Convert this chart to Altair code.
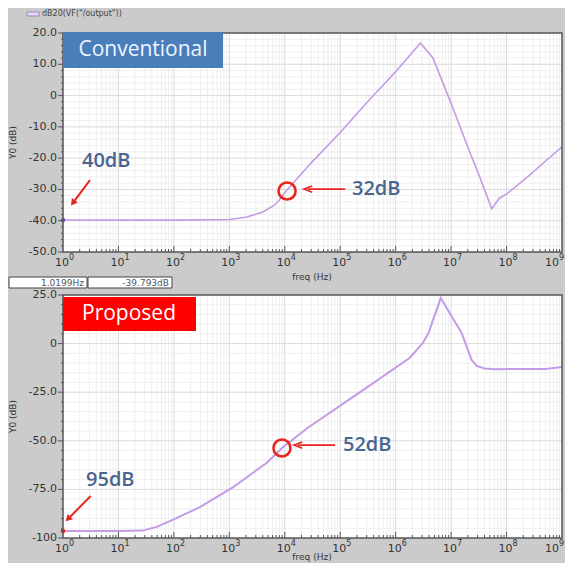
import math
import altair as alt
import pandas as pd

# ---------------- data ----------------
conv_freq = [1, 10, 100, 1000, 2000, 4000, 6300, 8000, 1e4, 3e4, 1e5, 3e5, 1e6,
             2.8e6, 4.7e6, 1e7, 2.1e7, 3.2e7, 5.4e7, 7.4e7, 1e8, 2.6e8, 5e8, 1e9]
conv_db = [-39.79, -39.8, -39.8, -39.6, -38.9, -37.2, -35.2, -33.4, -31.0, -21.5, -11.8,
           -2.3, 7.6, 16.8, 12.0, -2.5, -17.4, -25.5, -36.2, -32.8, -31.5, -25.4, -21.0, -16.4]

prop_freq = [1, 10, 27, 49, 95, 295, 1175, 4700, 8900, 2.57e4, 2.57e5, 1.78e6, 3.1e6,
             4e6, 4.7e6, 5.6e6, 6.5e6, 1.0e7, 1.55e7, 2.34e7, 2.9e7, 4e7, 6.3e7, 1.3e8, 5e8, 1e9]
prop_db = [-96.4, -96.4, -96.2, -94.3, -90.7, -84.1, -73.8, -61.4, -53.7, -43.4, -23.9,
           -7.4, 0.3, 6.0, 12.1, 18.0, 23.5, 14.5, 5.5, -8.4, -11.5, -12.8, -13.2, -13.1, -13.1, -12.0]

x_exponents = [0, 1, 2, 3, 4, 5, 6, 7, 8, 9]

top_ticks = [20, 10, 0, -10, -20, -30, -40, -50]
top_tick_labels = ["20.0", "10.0", "0", "-10.0", "-20.0", "-30.0", "-40.0", "-50.0"]
bot_ticks = [25, 0, -25, -50, -75, -100]
bot_tick_labels = ["25.0", "0", "-25.0", "-50.0", "-75.0", "-100"]

# annotations: (label, freq, dB)
top_note = ["40dB", "32dB"]
top_note_f = [2.2, 1.63e5]
top_note_db = [-20.8, -29.9]
bot_note = ["95dB", "52dB"]
bot_note_f = [2.6, 1.12e5]
bot_note_db = [-70.2, -52.2]

top_circle = (1.1e4, -30.5)
bot_circle = (8.9e3, -53.7)
top_larrow = (1.23e5, 2.63e4, -29.9)        # tail f, head f, dB
bot_larrow = (8.1e4, 1.74e4, -52.2)
top_darrow = (3.07, -27.0, 1.51, -34.3)     # tail f, tail dB, head f, head dB
bot_darrow = (3.16, -78.4, 1.23, -90.2)

# ---------------- layout constants ----------------
W = 499
TOP_Y0, TOP_Y1 = 0, 219
BOT_Y0, BOT_Y1 = 262, 505
H = 505

BG = "#cbcbcb"
LINE = "#c39be6"
MAJ_GRID = "#dadada"
MIN_GRID = "#efefef"
FRAME = "#555555"
LABEL = "#333333"
NOTE = "#4a6590"
RED = "#e8261f"

xs = alt.Scale(type="log", domain=[1, 1e9], range=[0, W], nice=False)

minor_f = [m * 10 ** k for k in range(9) for m in range(2, 10)]
major_f = [10 ** k for k in range(1, 9)]


def panel(ymin, ymax, y_px0, y_px1, ticks, tick_labels, minor_step, freq, db, lw,
          notes, note_f, note_db, circle, larrow, darrow, dot_color, darrow_angle, ftitle_off):
    ys = alt.Scale(domain=[ymin, ymax], range=[y_px1, y_px0], nice=False)
    X = lambda f: alt.X(f, type="quantitative", scale=xs, axis=None)
    Y = lambda f: alt.Y(f, type="quantitative", scale=ys, axis=None)

    bg = alt.Chart(pd.DataFrame({"a": [1], "b": [1e9], "lo": [ymin], "hi": [ymax]})).mark_rect(
        fill="white").encode(x=X("a"), x2="b", y=Y("hi"), y2="lo")

    vmin = alt.Chart(pd.DataFrame({"f": minor_f, "lo": ymin, "hi": ymax})).mark_rule(
        color=MIN_GRID, strokeWidth=1).encode(x=X("f"), y=Y("hi"), y2="lo")
    vmaj = alt.Chart(pd.DataFrame({"f": major_f, "lo": ymin, "hi": ymax})).mark_rule(
        color=MAJ_GRID, strokeWidth=1).encode(x=X("f"), y=Y("hi"), y2="lo")

    hmin_vals = [v for v in range(int(ymin), int(ymax) + 1, minor_step) if v not in ticks]
    hmin = alt.Chart(pd.DataFrame({"v": hmin_vals, "a": 1, "b": 1e9})).mark_rule(
        color=MIN_GRID, strokeWidth=1).encode(y=Y("v"), x=X("a"), x2="b")
    hmaj = alt.Chart(pd.DataFrame({"v": ticks[1:-1], "a": 1, "b": 1e9})).mark_rule(
        color=MAJ_GRID, strokeWidth=1).encode(y=Y("v"), x=X("a"), x2="b")

    curve = alt.Chart(pd.DataFrame({"freq": freq, "dB": db})).mark_line(
        color=LINE, strokeWidth=lw).encode(x=X("freq"), y=Y("dB"))

    dot = alt.Chart(pd.DataFrame({"freq": freq[:1], "dB": db[:1]})).mark_point(
        filled=True, size=22, color=dot_color, opacity=1).encode(x=X("freq"), y=Y("dB"))

    frame = alt.Chart(pd.DataFrame({"a": [1], "b": [1e9], "lo": [ymin], "hi": [ymax]})).mark_rect(
        fillOpacity=0, stroke=FRAME, strokeWidth=1.5).encode(x=X("a"), x2="b", y=Y("hi"), y2="lo")

    # x ticks (inside, from bottom edge)
    xt_min = alt.Chart(pd.DataFrame({"f": minor_f})).mark_rule(color=FRAME, strokeWidth=1).encode(
        x=X("f"), y=alt.value(y_px1), y2=alt.value(y_px1 - 3))
    xt_maj = alt.Chart(pd.DataFrame({"f": major_f})).mark_rule(color=FRAME, strokeWidth=1).encode(
        x=X("f"), y=alt.value(y_px1), y2=alt.value(y_px1 - 6))
    # y ticks (outside left)
    yt_min = alt.Chart(pd.DataFrame({"v": hmin_vals})).mark_rule(color=FRAME, strokeWidth=1).encode(
        y=Y("v"), x=alt.value(-2), x2=alt.value(0))
    yt_maj = alt.Chart(pd.DataFrame({"v": ticks})).mark_rule(color=FRAME, strokeWidth=1).encode(
        y=Y("v"), x=alt.value(-5), x2=alt.value(0))

    ylab = alt.Chart(pd.DataFrame({"v": ticks, "t": tick_labels})).mark_text(
        align="right", baseline="middle", font="DejaVu Sans", fontSize=11, color=LABEL).encode(
        y=Y("v"), x=alt.value(-6), text="t:N")

    exps_in = x_exponents[:-1]
    exps_last = x_exponents[-1:]
    xdf = pd.DataFrame({"f": [10 ** e for e in exps_in], "e": [str(e) for e in exps_in]})
    xdf_last = pd.DataFrame({"f": [10 ** e for e in exps_last], "e": [str(e) for e in exps_last]})
    xbase = alt.Chart(xdf).mark_text(
        align="right", baseline="middle", font="DejaVu Sans", fontSize=11, color=LABEL,
        dx=6).encode(x=X("f"), y=alt.value(y_px1 + 11), text=alt.value("10"))
    xexp = alt.Chart(xdf).mark_text(
        align="left", baseline="middle", font="DejaVu Sans", fontSize=8, color=LABEL,
        dx=6, dy=-5).encode(x=X("f"), y=alt.value(y_px1 + 11), text="e:N")
    xbase_l = alt.Chart(xdf_last).mark_text(
        align="right", baseline="middle", font="DejaVu Sans", fontSize=11, color=LABEL,
        dx=-3).encode(x=X("f"), y=alt.value(y_px1 + 11), text=alt.value("10"))
    xexp_l = alt.Chart(xdf_last).mark_text(
        align="left", baseline="middle", font="DejaVu Sans", fontSize=8, color=LABEL,
        dx=-3, dy=-5).encode(x=X("f"), y=alt.value(y_px1 + 11), text="e:N")

    xtitle = alt.Chart(pd.DataFrame({"t": ["freq (Hz)"]})).mark_text(
        align="center", baseline="middle", font="DejaVu Sans", fontSize=9, color=LABEL).encode(
        x=alt.value(249), y=alt.value(y_px1 + ftitle_off), text="t:N")
    ytitle = alt.Chart(pd.DataFrame({"t": ["Y0 (dB)"]})).mark_text(
        align="center", baseline="middle", font="DejaVu Sans", fontSize=9, color=LABEL,
        angle=270).encode(x=alt.value(-50), y=alt.value((y_px0 + y_px1) / 2), text="t:N")

    ndf = pd.DataFrame({"t": notes, "f": note_f, "dB": note_db})
    ntext = alt.Chart(ndf).mark_text(
        align="left", baseline="middle", font="Open Sans", fontWeight=600, fontSize=20,
        color=NOTE).encode(x=X("f"), y=Y("dB"), text="t:N")

    circ = alt.Chart(pd.DataFrame({"f": [circle[0]], "dB": [circle[1]]})).mark_point(
        shape="circle", size=290, filled=False, stroke=RED, strokeWidth=2.6, opacity=1).encode(
        x=X("f"), y=Y("dB"))

    lline = alt.Chart(pd.DataFrame({"a": [larrow[0]], "b": [larrow[1]], "dB": [larrow[2]]})).mark_rule(
        color=RED, strokeWidth=1.6).encode(x=X("a"), x2="b", y=Y("dB"))
    lhead = alt.Chart(pd.DataFrame({"f": [larrow[1]], "dB": [larrow[2]]})).mark_point(
        shape="M 1 -0.75 L -1 0 L 1 0.75", size=70, filled=False, stroke=RED, strokeWidth=1.6,
        opacity=1, dx=4).encode(x=X("f"), y=Y("dB"))

    dline = alt.Chart(pd.DataFrame({"a": [darrow[0]], "ya": [darrow[1]],
                                    "b": [darrow[2]], "yb": [darrow[3]]})).mark_rule(
        color=RED, strokeWidth=2).encode(x=X("a"), x2="b", y=Y("ya"), y2="yb")
    dhead = alt.Chart(pd.DataFrame({"f": [darrow[2]], "dB": [darrow[3]]})).mark_point(
        shape="triangle-up", size=55, filled=True, color=RED, opacity=1,
        angle=darrow_angle).encode(x=X("f"), y=Y("dB"))

    return alt.layer(bg, vmin, hmin, vmaj, hmaj, curve, dot, frame, xt_min, xt_maj, yt_min, yt_maj,
                     ylab, xbase, xexp, xbase_l, xexp_l, xtitle, ytitle, ntext, circ, lline, lhead,
                     dline, dhead)


top = panel(-50, 20, TOP_Y0, TOP_Y1, top_ticks, top_tick_labels, 2, conv_freq, conv_db, 1.6,
            top_note, top_note_f, top_note_db, top_circle, top_larrow, top_darrow, "#6b5fc4", 216, 25)
bot = panel(-100, 25, BOT_Y0, BOT_Y1, bot_ticks, bot_tick_labels, 5, prop_freq, prop_db, 2.0,
            bot_note, bot_note_f, bot_note_db, bot_circle, bot_larrow, bot_darrow, RED, 225, 19)

# ---------------- decorations (labels / legend / cursor readout) ----------------
def box(x0, x1, y0, y1, fill, stroke=None):
    kw = {"fill": fill}
    if stroke:
        kw.update(stroke=stroke, strokeWidth=1)
    return alt.Chart(pd.DataFrame({"k": [0]})).mark_rect(**kw).encode(
        x=alt.value(x0), x2=alt.value(x1), y=alt.value(y0), y2=alt.value(y1))


def label(txt, x, y, size, color, align="center", font="Open Sans", weight="normal"):
    return alt.Chart(pd.DataFrame({"t": [txt]})).mark_text(
        align=align, baseline="middle", font=font, fontSize=size, color=color,
        fontWeight=weight).encode(x=alt.value(x), y=alt.value(y), text="t:N")


deco = alt.layer(
    box(0, 160, -1, 35, "#4a7ebb"),
    label("Conventional", 80, 17, 21, "#eef4ff"),
    box(0, 133, 264, 298, "#ff0000"),
    label("Proposed", 66, 281, 21, "#ffffff"),
    box(-36, -24, -21, -17, "#e6d8f5", "#9a86c0"),
    label('dB20(VF("/output"))', -21, -19, 8, "#444444", align="left", font="DejaVu Sans"),
    box(-54, 24, 244, 255, "white", "#444444"),
    box(25, 109, 244, 255, "white", "#444444"),
    label("1.0199Hz", 21, 249.5, 9, "#555555", align="right", font="DejaVu Sans"),
    label("-39.793dB", 106, 249.5, 9, "#555555", align="right", font="DejaVu Sans"),
)

chart = alt.layer(top, bot, deco).resolve_scale(y="independent").properties(
    width=W, height=H,
    autosize=alt.AutoSizeParams(type="none"),
    padding={"left": 55, "top": 25, "right": 3, "bottom": 25},
    background=BG,
).configure_view(stroke=None)

chart.save("out.html", embed_options={"renderer": "svg", "actions": False})
